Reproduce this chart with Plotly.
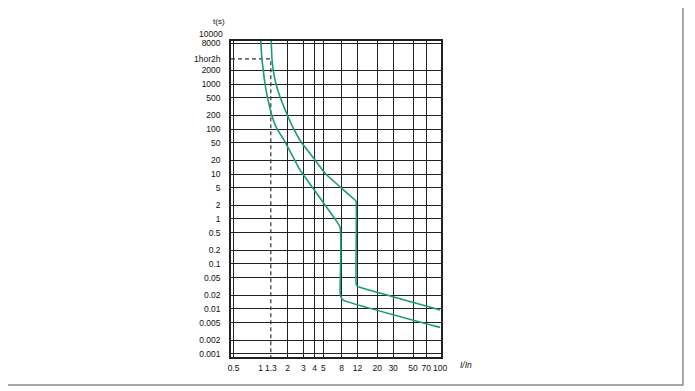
import plotly.graph_objects as go
import math

# ---- data ----
low_I = [1.00, 1.036, 1.072, 1.12, 1.19, 1.33, 1.485, 1.87, 2.75, 3.55, 5.22, 7.7, 7.7, 7.85, 8.35, 100]
low_t = [10000, 3540, 1980, 1000, 520, 205, 112, 52, 12.3, 6.0, 2.05, 0.65, 0.024, 0.0185, 0.0158, 0.0039]

high_I = [1.31, 1.34, 1.386, 1.485, 1.645, 1.985, 2.28, 2.82, 4.04, 5.22, 7.68, 11.28, 11.6, 11.6, 11.9, 12.8, 100]
high_t = [10000, 3540, 1980, 1000, 520, 205, 112, 52, 20.5, 10.4, 5.2, 2.64, 2.5, 0.037, 0.0325, 0.0303, 0.0095]

x_label_vals = [0.5, 1, 1.3, 2, 3, 4, 5, 8, 12, 20, 30, 50, 70, 100]
x_label_text = ["0.5", "1", "1.3", "2", "3", "4", "5", "8", "12", "20", "30", "50", "70", "100"]
x_grid_vals = [0.5, 2, 3, 4, 5, 8, 12, 20, 30, 50, 70, 100]

y_label_vals = [8000, 3600, 2000, 1000, 500, 200, 100, 50, 20, 10, 5, 2, 1, 0.5, 0.2, 0.1,
                0.05, 0.02, 0.01, 0.005, 0.002, 0.001]
y_label_text = ["8000", "1hor2h", "2000", "1000", "500", "200", "100", "50", "20", "10", "5", "2",
                "1", "0.5", "0.2", "0.1", "0.05", "0.02", "0.01", "0.005", "0.002", "0.001"]
y_grid_vals = [8000, 2000, 1000, 500, 200, 100, 50, 20, 10, 5, 2, 1, 0.5, 0.2, 0.1,
               0.05, 0.02, 0.01, 0.005, 0.002, 0.001]

x_min, x_max = 0.468, 102.5
y_min, y_max = 0.000857, 9030

marker_I = 1.3
marker_t = 3600

dash_I = [x_min, marker_I, marker_I]
dash_t = [marker_t, marker_t, y_min]

TEAL = "#1b9a7e"
GRID = "#222222"
FONT = dict(family="Liberation Sans, Arial, sans-serif", size=8.5, color="#111111")
SMALL = dict(family="Liberation Sans, Arial, sans-serif", size=8, color="#111111")

fig = go.Figure()

fig.add_trace(go.Scatter(x=dash_I, y=dash_t, mode="lines",
                         line=dict(color="#333333", width=1.2, dash="4px,3px"),
                         hoverinfo="skip", showlegend=False))
fig.add_trace(go.Scatter(x=low_I, y=low_t, mode="lines", line=dict(color=TEAL, width=1.6, shape="spline", smoothing=0.4),
                         showlegend=False))
fig.add_trace(go.Scatter(x=high_I, y=high_t, mode="lines", line=dict(color=TEAL, width=1.6, shape="spline", smoothing=0.4),
                         showlegend=False))
# invisible trace for the grid-only axes
fig.add_trace(go.Scatter(x=[1], y=[1], xaxis="x2", yaxis="y2", mode="markers",
                         marker=dict(opacity=0), hoverinfo="skip", showlegend=False))

fig.update_layout(
    width=695, height=391,
    margin=dict(l=223, r=262, t=33, b=42, autoexpand=False),
    paper_bgcolor="white", plot_bgcolor="white",
    font=FONT,
    xaxis=dict(type="log", range=[math.log10(x_min), math.log10(x_max)],
               tickvals=x_label_vals, ticktext=x_label_text, showgrid=False, tickangle=0,
               automargin=False,
               zeroline=False, ticks="", ticklabelstandoff=2,
               showline=True, linecolor="#222222", linewidth=1.5, mirror=True, tickfont=FONT),
    yaxis=dict(type="log", range=[math.log10(y_min), math.log10(y_max)],
               tickvals=y_label_vals, ticktext=y_label_text, showgrid=False, automargin=False,
               zeroline=False, ticks="", ticklabelstandoff=7,
               showline=True, linecolor="#222222", linewidth=1.5, mirror=True, tickfont=FONT),
    xaxis2=dict(type="log", range=[math.log10(x_min), math.log10(x_max)], overlaying="x",
                tickvals=x_grid_vals, showticklabels=False, showgrid=True, automargin=False,
                gridcolor=GRID, gridwidth=1.2, zeroline=False, ticks=""),
    yaxis2=dict(type="log", range=[math.log10(y_min), math.log10(y_max)], overlaying="y",
                tickvals=y_grid_vals, showticklabels=False, showgrid=True, automargin=False,
                gridcolor=GRID, gridwidth=1.2, zeroline=False, ticks=""),
    annotations=[
        dict(text="10000", xref="paper", yref="paper", x=0, y=1.021, xshift=-6,
             xanchor="right", yanchor="middle", showarrow=False, font=FONT),
        dict(text="t(s)", xref="paper", yref="paper", x=0, y=1.041, xshift=-4,
             xanchor="right", yanchor="bottom", showarrow=False, font=SMALL),
        dict(text="<i>I/In</i>", xref="paper", yref="paper", x=1.119, y=-0.024,
             xanchor="center", yanchor="middle", showarrow=False, font=FONT),
    ],
    shapes=[
        dict(type="rect", xref="paper", yref="paper", x0=-1.081, x1=2.152, y0=-0.0886, y1=1.117,
             line=dict(color="#8a8a8a", width=1.5), fillcolor="rgba(0,0,0,0)", layer="below"),
    ],
)

fig.write_html("out.html")
